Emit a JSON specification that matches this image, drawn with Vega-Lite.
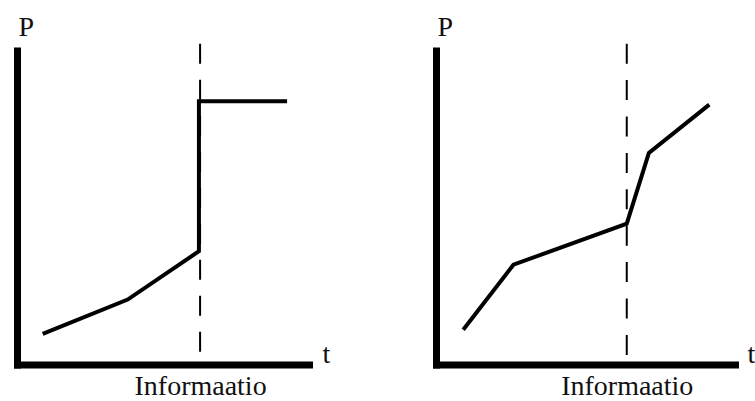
{
  "$schema": "https://vega.github.io/schema/vega-lite/v6.json",
  "background": "white",
  "padding": {"left": 17, "top": 13.6, "right": 0, "bottom": 0},
  "spacing": 127,
  "bounds": "flush",
  "config": {
    "view": {"stroke": null},
    "font": "Liberation Serif",
    "axis": {
      "domainColor": "black",
      "domainWidth": 7,
      "domainCap": "square",
      "ticks": false,
      "grid": false,
      "labelFont": "Liberation Serif, Times New Roman, serif",
      "labelFontSize": 28,
      "labelColor": "#111111",
      "titleFont": "Liberation Serif, Times New Roman, serif",
      "titleFontSize": 28,
      "titleFontWeight": "normal",
      "titleColor": "#111111"
    }
  },
  "datasets": {
    "curveA": [
      {"i": 1, "t": 8.8, "p": 9.8},
      {"i": 2, "t": 37.9, "p": 20.7},
      {"i": 3, "t": 62.3, "p": 36.1},
      {"i": 4, "t": 62.3, "p": 83.9},
      {"i": 5, "t": 92.5, "p": 83.9}
    ],
    "infoA": [{"t": 62.7, "top": 102.2, "bottom": 0}],
    "curveB": [
      {"i": 1, "t": 9.1, "p": 11.1},
      {"i": 2, "t": 25.9, "p": 31.8},
      {"i": 3, "t": 63.8, "p": 44.9},
      {"i": 4, "t": 71.2, "p": 67.4},
      {"i": 5, "t": 91.4, "p": 82.8}
    ],
    "infoB": [{"t": 63.8, "top": 102.2, "bottom": 0}]
  },
  "hconcat": [
    {
      "width": 292,
      "height": 314,
      "layer": [
        {
          "data": {"name": "curveA"},
          "mark": {"type": "line", "color": "black", "strokeWidth": 4, "strokeJoin": "miter"},
          "encoding": {
            "x": {
              "field": "t", "type": "quantitative",
              "scale": {"domain": [0, 100], "nice": false, "zero": false},
              "axis": {
                "orient": "bottom",
                "values": [62.7],
                "labelExpr": "'Informaatio'",
                "labelFont": "Liberation Serif",
                "labelPadding": 30,
                "labelBaseline": "alphabetic",
                "labelFlush": false,
                "labelOverlap": false,
                "title": "t",
                "titleFont": "Liberation Serif",
                "titleX": 305,
                "titleY": -2,
                "titleAlign": "left",
                "titleBaseline": "alphabetic"
              }
            },
            "y": {
              "field": "p", "type": "quantitative",
              "scale": {"domain": [0, 100], "nice": false, "zero": false},
              "axis": {
                "orient": "left",
                "labels": false,
                "title": "P",
                "titleFont": "Liberation Serif",
                "titleAngle": 0,
                "titleX": 1,
                "titleY": -15,
                "titleAlign": "left",
                "titleBaseline": "alphabetic"
              }
            },
            "order": {"field": "i", "type": "quantitative"}
          }
        },
        {
          "data": {"name": "infoA"},
          "mark": {"type": "rule", "color": "black", "strokeWidth": 2, "strokeDash": [20, 16]},
          "encoding": {
            "x": {"field": "t", "type": "quantitative"},
            "y": {"field": "top", "type": "quantitative"},
            "y2": {"field": "bottom"}
          }
        }
      ]
    },
    {
      "width": 299,
      "height": 314,
      "layer": [
        {
          "data": {"name": "curveB"},
          "mark": {"type": "line", "color": "black", "strokeWidth": 4, "strokeJoin": "miter"},
          "encoding": {
            "x": {
              "field": "t", "type": "quantitative",
              "scale": {"domain": [0, 100], "nice": false, "zero": false},
              "axis": {
                "orient": "bottom",
                "values": [63.8],
                "labelExpr": "'Informaatio'",
                "labelFont": "Liberation Serif",
                "labelPadding": 30,
                "labelBaseline": "alphabetic",
                "labelFlush": false,
                "labelOverlap": false,
                "title": "t",
                "titleFont": "Liberation Serif",
                "titleX": 311,
                "titleY": -2,
                "titleAlign": "left",
                "titleBaseline": "alphabetic"
              }
            },
            "y": {
              "field": "p", "type": "quantitative",
              "scale": {"domain": [0, 100], "nice": false, "zero": false},
              "axis": {
                "orient": "left",
                "labels": false,
                "title": "P",
                "titleFont": "Liberation Serif",
                "titleAngle": 0,
                "titleX": 1,
                "titleY": -15,
                "titleAlign": "left",
                "titleBaseline": "alphabetic"
              }
            },
            "order": {"field": "i", "type": "quantitative"}
          }
        },
        {
          "data": {"name": "infoB"},
          "mark": {"type": "rule", "color": "black", "strokeWidth": 2, "strokeDash": [20, 16.4]},
          "encoding": {
            "x": {"field": "t", "type": "quantitative"},
            "y": {"field": "top", "type": "quantitative"},
            "y2": {"field": "bottom"}
          }
        }
      ]
    }
  ]
}
